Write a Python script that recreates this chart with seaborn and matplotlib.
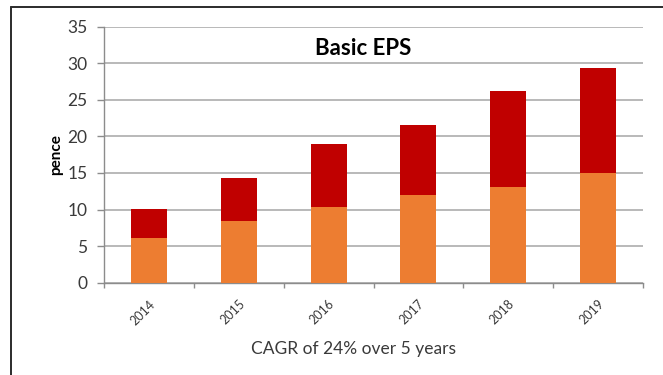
import matplotlib
matplotlib.use("Agg")
import matplotlib.pyplot as plt
import matplotlib.transforms as mtransforms
from matplotlib.lines import Line2D
from matplotlib.ticker import FixedLocator
import seaborn as sns
import pandas as pd

# Basic EPS in pence, split into two stacked components per year
years = ["2014", "2015", "2016", "2017", "2018", "2019"]
eps_lower = [6.1, 8.5, 10.3, 12.0, 13.1, 15.0]
eps_upper = [4.0, 5.8, 8.6, 9.5, 13.1, 14.4]
y_ticks = [0, 5, 10, 15, 20, 25, 30, 35]

title_text = "Basic EPS"
y_label = "pence"
footnote = "CAGR of 24% over 5 years"

df = pd.DataFrame({"year": years, "lower": eps_lower, "upper": eps_upper})
df["total"] = df["lower"] + df["upper"]

sns.set_theme(style="white")
plt.rcParams["font.family"] = ["Lato", "DejaVu Sans"]

W, H = 663, 375
fig = plt.figure(figsize=(W / 100, H / 100), dpi=100)
fig.patch.set_facecolor("white")
ax = fig.add_axes([104 / W, (H - 282.7) / H, 539 / W, 256 / H])

# Stacked bars: full height in red, lower part overlaid in orange
sns.barplot(data=df, x="year", y="total", color="#C00000", width=0.4,
            saturation=1, ax=ax, zorder=3, errorbar=None, linewidth=0)
sns.barplot(data=df, x="year", y="lower", color="#ED7D31", width=0.4,
            saturation=1, ax=ax, zorder=4, errorbar=None, linewidth=0)

ax.set_xlim(-0.5, len(years) - 0.5)
ax.set_ylim(0, 35)
ax.set_yticks(y_ticks)
ax.set_xlabel("")
ax.set_ylabel("")

grey = "#8C8C8C"
ax.yaxis.grid(True, color="#A6A6A6", linewidth=1.1, zorder=0)
ax.xaxis.grid(False)
ax.set_axisbelow(True)
for side in ("top", "right"):
    ax.spines[side].set_visible(False)
for side in ("left", "bottom"):
    ax.spines[side].set_color(grey)
    ax.spines[side].set_linewidth(1.0)

ax.tick_params(axis="y", which="major", left=True, length=5, width=1.0,
               color=grey, pad=7, labelsize=12.5, labelcolor="#3A3A3A")
ax.tick_params(axis="x", which="major", bottom=True, length=0, pad=14,
               labelsize=9, labelcolor="#3A3A3A")
ax.xaxis.set_minor_locator(FixedLocator([i - 0.5 for i in range(len(years) + 1)]))
ax.tick_params(axis="x", which="minor", bottom=True, length=3.5, width=1.0,
               color=grey)

shift = mtransforms.ScaledTranslation(4 / 100, 0, fig.dpi_scale_trans)
for lbl in ax.get_xticklabels():
    lbl.set_rotation(45)
    lbl.set_ha("right")
    lbl.set_va("center")
    lbl.set_rotation_mode("anchor")
    lbl.set_transform(lbl.get_transform() + shift)

fig.text(362.7 / W, 1 - 55 / H, title_text, ha="center", va="baseline",
         fontsize=16, fontweight="bold", color="black")
fig.text(56 / W, 1 - 155 / H, y_label, ha="center", va="center",
         rotation=90, fontsize=11, fontweight="bold", color="black")
fig.text(353.5 / W, 1 - 354 / H, footnote, ha="center", va="baseline",
         fontsize=12.5, color="#3A3A3A")

# Outer frame (top and left edges)
frame_kw = dict(color="#2B2B2B", linewidth=1.4, transform=fig.transFigure)
fig.add_artist(Line2D([10.5 / W, 1.0], [1 - 7.3 / H, 1 - 7.3 / H], **frame_kw))
fig.add_artist(Line2D([10.5 / W, 10.5 / W], [0.0, 1 - 7.3 / H], **frame_kw))

fig.savefig("out.png", dpi=100, facecolor="white")
